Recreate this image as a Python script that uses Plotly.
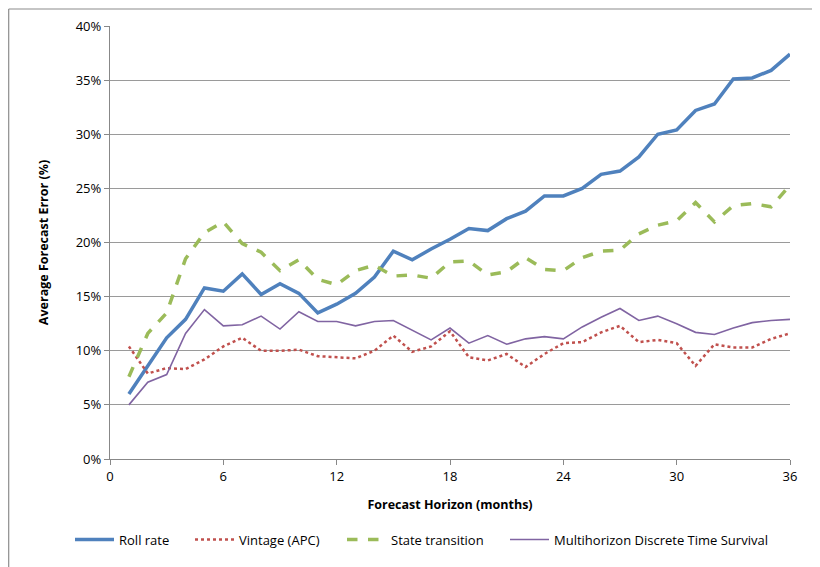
import plotly.graph_objects as go

months = list(range(1, 37))

roll_rate = [6.0, 8.6, 11.2, 12.9, 15.8, 15.5, 17.1, 15.2, 16.2, 15.3, 13.5, 14.3,
             15.3, 16.8, 19.2, 18.4, 19.4, 20.3, 21.3, 21.1, 22.2, 22.9, 24.3, 24.3,
             25.0, 26.3, 26.6, 27.9, 30.0, 30.4, 32.2, 32.8, 35.1, 35.2, 35.9, 37.4]
vintage = [10.4, 7.9, 8.4, 8.3, 9.2, 10.4, 11.2, 10.0, 10.0, 10.1, 9.5, 9.4,
           9.3, 10.0, 11.4, 9.9, 10.4, 11.8, 9.4, 9.1, 9.7, 8.5, 9.7, 10.7,
           10.8, 11.7, 12.3, 10.8, 11.0, 10.7, 8.6, 10.6, 10.3, 10.3, 11.1, 11.6]
state_transition = [7.6, 11.6, 13.5, 18.5, 20.9, 21.9, 19.9, 19.1, 17.4, 18.4, 16.6, 16.1,
                    17.4, 17.9, 16.9, 17.0, 16.7, 18.2, 18.3, 17.0, 17.3, 18.6, 17.5, 17.4,
                    18.6, 19.2, 19.3, 20.8, 21.6, 22.0, 23.7, 21.9, 23.4, 23.6, 23.3, 25.3]
multihorizon = [5.0, 7.1, 7.8, 11.6, 13.8, 12.3, 12.4, 13.2, 12.0, 13.6, 12.7, 12.7,
                12.3, 12.7, 12.8, 11.9, 11.0, 12.1, 10.7, 11.4, 10.6, 11.1, 11.3, 11.1,
                12.2, 13.1, 13.9, 12.8, 13.2, 12.5, 11.7, 11.5, 12.1, 12.6, 12.8, 12.9]

x_ticks = [0, 6, 12, 18, 24, 30, 36]
y_ticks = [0, 5, 10, 15, 20, 25, 30, 35, 40]
y_tick_labels = [f"{v}%" for v in y_ticks]

FONT = "Open Sans, Lato, sans-serif"

# page body has an 8px margin: figure origin is at screen (8, 8)
OX, OY = 8, 8
PL, PR, PT, PB = 110, 790, 26, 467  # plot area in screen px
PW, PH = PR - PL, PB - PT


def px(xs):
    return (xs - PL) / PW


def py(ys):
    return (PB - ys) / PH


fig = go.Figure()
fig.add_trace(go.Scatter(x=months, y=roll_rate, mode="lines", name="Roll rate",
                         line=dict(color="#4F81BD", width=3.5), legend="legend"))
fig.add_trace(go.Scatter(x=months, y=vintage, mode="lines", name="Vintage (APC)",
                         line=dict(color="#C0504D", width=2.5, dash="dot"), legend="legend2"))
fig.add_trace(go.Scatter(x=months, y=state_transition, mode="lines", name="State transition",
                         line=dict(color="#9BBB59", width=3.5, dash="dash"), legend="legend3"))
fig.add_trace(go.Scatter(x=months, y=multihorizon, mode="lines",
                         name="Multihorizon Discrete Time Survival",
                         line=dict(color="#8064A2", width=1.6), legend="legend4"))


def leg(sample_x):
    return dict(orientation="h", x=px(sample_x - 8), xanchor="left", y=py(549),
                yanchor="middle", font=dict(size=13), itemwidth=39,
                bgcolor="rgba(0,0,0,0)")


fig.update_layout(
    width=820 - OX, height=567 - OY,
    margin=dict(l=PL - OX, r=820 - PR, t=PT - OY, b=567 - PB),
    paper_bgcolor="white", plot_bgcolor="white",
    font=dict(family=FONT, size=13, color="#000000"),
    showlegend=True,
    legend=leg(78), legend2=leg(198), legend3=leg(350), legend4=leg(513),
    xaxis=dict(range=[0, 36], tickvals=x_ticks, ticktext=[str(v) for v in x_ticks],
               showgrid=False, zeroline=False, showline=True, linecolor="#888888",
               linewidth=1.3, ticks="outside", ticklen=5, tickcolor="#888888",
               automargin=False,
               title=dict(text="<b>Forecast Horizon (months)</b>", font=dict(size=12.5),
                          standoff=16),
               tickfont=dict(size=13)),
    yaxis=dict(range=[0, 40], tickvals=y_ticks, ticktext=y_tick_labels,
               showgrid=True, gridcolor="#9a9a9a", gridwidth=1.3, zeroline=False,
               showline=True, linecolor="#888888", linewidth=1.3, ticks="outside",
               ticklen=5, tickcolor="#888888", automargin=False,
               title=dict(text="<b>Average Forecast Error (%)</b>", font=dict(size=12.5),
                          standoff=24),
               tickfont=dict(size=13)),
    shapes=[
        dict(type="line", xref="paper", yref="paper", x0=px(8.7), x1=px(8.7),
             y0=py(8.7), y1=py(600),
             line=dict(color="#8c8c8c", width=1.2)),
        dict(type="line", xref="paper", yref="paper", x0=px(8.7), x1=px(830),
             y0=py(8.7), y1=py(8.7),
             line=dict(color="#8c8c8c", width=1.2)),
    ],
)

fig.write_html("out.html", config={"displayModeBar": False})
